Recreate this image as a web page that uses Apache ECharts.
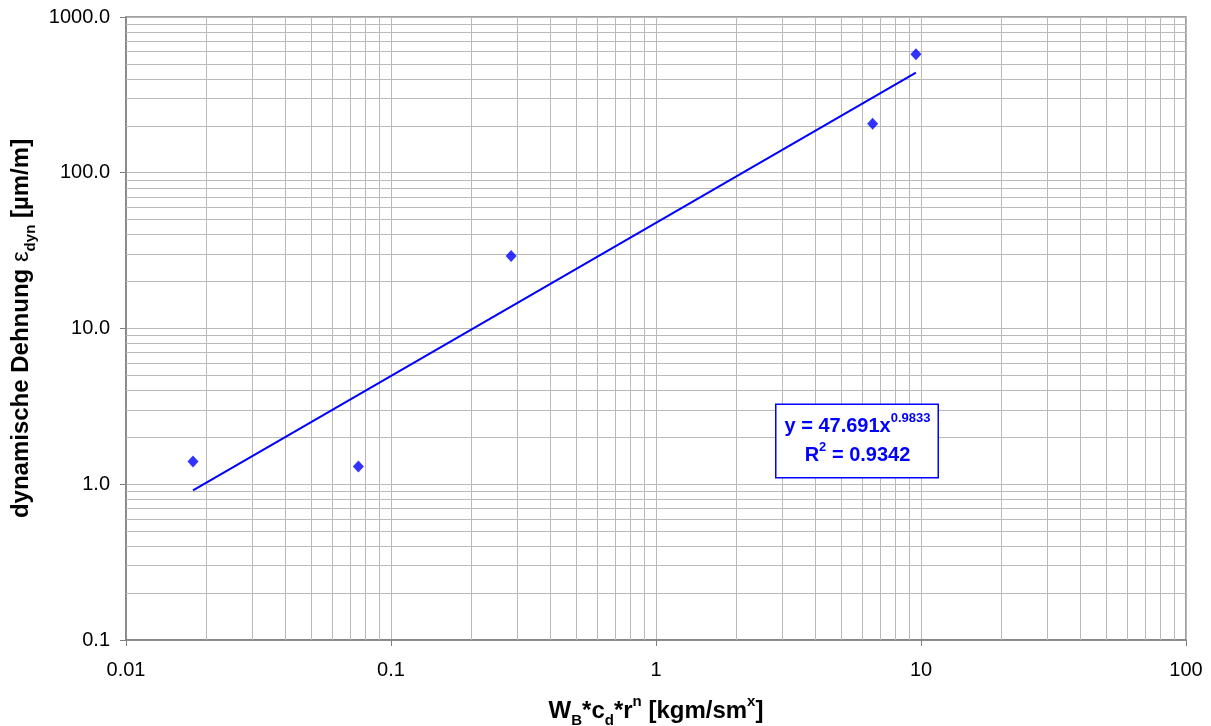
<!DOCTYPE html>
<html>
<head>
<meta charset="utf-8">
<script src="https://cdn.jsdelivr.net/npm/echarts@6/dist/echarts.min.js"></script>
<style>
  html, body { margin: 0; padding: 0; background: #fff; }
  #chart { width: 1211px; height: 726px; }
</style>
</head>
<body>
<div id="chart"></div>
<script>
// Measured points: load parameter vs. dynamic strain
const xValues = [0.0179, 0.0753, 0.284, 6.57, 9.57];
const yValues = [1.40, 1.30, 29.2, 206, 576];

// Power-law fit y = a * x^b
const trendCoef = 47.691;
const trendExp = 0.9833;
const rSquared = 0.9342;

// Axis tick labels (one per decade)
const xTickLabels = ['0.01', '0.1', '1', '10', '100'];
const yTickLabels = ['0.1', '1.0', '10.0', '100.0', '1000.0'];

const xRange = [0.01, 100];
const yRange = [0.1, 1000];

const points = xValues.map((x, i) => [x, yValues[i]]);

// Fitted line between the smallest and largest measured x
const xLo = Math.min(...xValues);
const xHi = Math.max(...xValues);
const trendLine = [xLo, xHi].map(x => [x, trendCoef * Math.pow(x, trendExp)]);

// Minor grid values 2..9 inside each decade
function minorValues(lo, hi) {
  const out = [];
  for (let d = lo; d < hi - 1e-12; d *= 10) {
    for (let m = 2; m <= 9; m++) out.push(+(d * m).toPrecision(6));
  }
  return out;
}
const gridColor = '#b9b9b9';
const minorMarks = [
  ...minorValues(xRange[0], xRange[1]).map(v => ({ xAxis: v })),
  ...minorValues(yRange[0], yRange[1]).map(v => ({ yAxis: v }))
];

const FONT = 'Arial, "Liberation Sans", sans-serif';
const blue = '#0000ff';

const chart = echarts.init(document.getElementById('chart'), null, { renderer: 'canvas' });

chart.setOption({
  animation: false,
  backgroundColor: '#ffffff',
  grid: {
    left: 126, top: 17, right: 25, bottom: 86,
    containLabel: false,
    outerBoundsMode: 'none',
    show: true, borderColor: '#808080', borderWidth: 1.5
  },
  xAxis: {
    type: 'log', logBase: 10, min: xRange[0], max: xRange[1], interval: 1,
    axisLine: { show: true, lineStyle: { color: '#808080', width: 1.5 } },
    axisTick: { show: true, length: 6, inside: false, lineStyle: { color: '#808080' } },
    splitLine: { show: true, lineStyle: { color: gridColor, width: 1 } },
    axisLabel: {
      color: '#000', fontFamily: FONT, fontSize: 20, margin: 20,
      formatter: (v, i) => xTickLabels[i]
    },
    name: '{b|W}{bs|B}{b|*c}{bs|d}{b|*r}{bp|n}{b| [kgm/sm}{bp|x}{b|]}',
    nameLocation: 'middle', nameGap: 54,
    nameTextStyle: {
      rich: {
        b: { fontFamily: FONT, fontWeight: 'bold', fontSize: 24, color: '#000', lineHeight: 34, verticalAlign: 'middle' },
        bs: { fontFamily: FONT, fontWeight: 'bold', fontSize: 15, color: '#000', lineHeight: 15, verticalAlign: 'bottom' },
        bp: { fontFamily: FONT, fontWeight: 'bold', fontSize: 15, color: '#000', lineHeight: 15, verticalAlign: 'top' }
      }
    }
  },
  yAxis: {
    type: 'log', logBase: 10, min: yRange[0], max: yRange[1], interval: 1,
    axisLine: { show: true, lineStyle: { color: '#808080', width: 1.5 } },
    axisTick: { show: true, length: 6, inside: false, lineStyle: { color: '#808080' } },
    splitLine: { show: true, lineStyle: { color: gridColor, width: 1 } },
    axisLabel: {
      color: '#000', fontFamily: FONT, fontSize: 20, margin: 16,
      formatter: (v, i) => yTickLabels[i]
    },
    name: '{b|dynamische Dehnung }{e|ε}{bs|dyn}{b| [µm/m]}',
    nameLocation: 'middle', nameGap: 84, nameRotate: 90,
    nameTextStyle: {
      rich: {
        b: { fontFamily: FONT, fontWeight: 'bold', fontSize: 24, color: '#000', lineHeight: 34, verticalAlign: 'middle' },
        e: { fontFamily: FONT, fontWeight: 'normal', fontSize: 24, color: '#000', lineHeight: 34, verticalAlign: 'middle' },
        bs: { fontFamily: FONT, fontWeight: 'bold', fontSize: 15, color: '#000', lineHeight: 15, verticalAlign: 'bottom' }
      }
    }
  },
  graphic: [{
    type: 'text',
    x: 857, y: 441,
    z: 100,
    style: {
      text: '{m|y = 47.691x}{s|0.9833}\n{m|R}{s|2}{m| = 0.9342}',
      align: 'center',
      verticalAlign: 'middle',
      backgroundColor: '#ffffff',
      borderColor: blue,
      borderWidth: 1.5,
      padding: [7, 7, 7, 8],
      rich: {
        m: { fontFamily: FONT, fontWeight: 'bold', fontSize: 20, fill: blue, lineHeight: 29, verticalAlign: 'middle' },
        s: { fontFamily: FONT, fontWeight: 'bold', fontSize: 13, fill: blue, lineHeight: 13, verticalAlign: 'top' }
      }
    }
  }],
  series: [
    {
      // minor grid lines inside each decade
      type: 'line', data: [], silent: true, z: 1,
      markLine: {
        silent: true, symbol: ['none', 'none'], animation: false,
        label: { show: false },
        lineStyle: { type: 'solid', color: gridColor, width: 1 },
        data: minorMarks
      }
    },
    {
      name: 'Potenz-Trend',
      type: 'line',
      data: trendLine,
      showSymbol: false,
      symbol: 'none',
      lineStyle: { color: blue, width: 2 },
      z: 5
    },
    {
      name: 'Messwerte',
      type: 'scatter',
      data: points,
      symbol: 'diamond',
      symbolSize: [11, 12],
      itemStyle: { color: blue },
      z: 6
    }
  ]
});
</script>
</body>
</html>
